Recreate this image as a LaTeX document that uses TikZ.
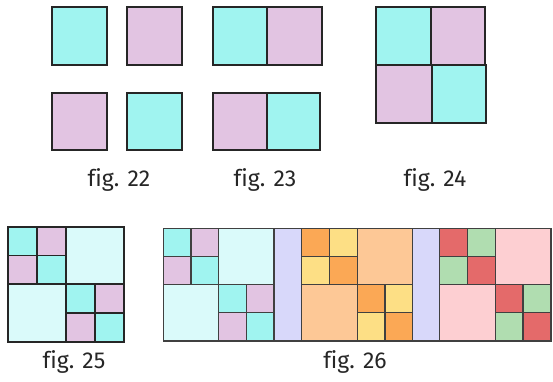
\documentclass[tikz,border=0pt]{standalone}
\usepackage{fontspec}
\setmainfont[Ligatures=NoCommon]{Fira Sans}
\usepackage{tikz}
\usetikzlibrary{positioning,calc}
\definecolor{tilecyan}{HTML}{A0F4F0}
\definecolor{tilepink}{HTML}{E2C4E2}
\definecolor{tilepale}{HTML}{DAFAFA}
\definecolor{bandblue}{HTML}{D8D8FA}
\definecolor{tileorange}{HTML}{FBA855}
\definecolor{tileyellow}{HTML}{FDDF85}
\definecolor{tilepeach}{HTML}{FDC896}
\definecolor{tilered}{HTML}{E46A6A}
\definecolor{tilegreen}{HTML}{B0DDB0}
\definecolor{tilerose}{HTML}{FDCFD2}

% block of fig. 25: #1,#2 top left corner, #3 width, #4 height, colours #5 #6 #7
\newcommand{\tileblock}[7]{%
  \pgfmathsetmacro{\hw}{#3/2}\pgfmathsetmacro{\hh}{#4/2}%
  \pgfmathsetmacro{\qw}{#3/4}\pgfmathsetmacro{\qh}{#4/4}%
  \draw[tile, fill=#7] (#1+\hw,#2) rectangle ++(\hw,\hh);
  \draw[tile, fill=#7] (#1,#2+\hh) rectangle ++(\hw,\hh);
  \foreach \ox/\oy in {0/0, \hw/\hh} {
    \draw[tile, fill=#5] (#1+\ox,#2+\oy) rectangle ++(\qw,\qh);
    \draw[tile, fill=#6] (#1+\ox+\qw,#2+\oy) rectangle ++(\qw,\qh);
    \draw[tile, fill=#6] (#1+\ox,#2+\oy+\qh) rectangle ++(\qw,\qh);
    \draw[tile, fill=#5] (#1+\ox+\qw,#2+\oy+\qh) rectangle ++(\qw,\qh);
  }
}

\begin{document}
\begin{tikzpicture}[x=1pt, y=-1pt,
  tile/.style={draw=black!85, line width=1.8pt},
  label/.style={font=\fontsize{23}{26}\selectfont, text=black!85}]
  \useasboundingbox (0,0) rectangle (553,381);

  % fig. 22
  \draw[tile, fill=tilecyan] (52.3,7.3) rectangle (107.3,64.7);
  \draw[tile, fill=tilepink] (126.7,7.3) rectangle (181.7,64.7);
  \draw[tile, fill=tilepink] (52.3,92.7) rectangle (107.3,150);
  \draw[tile, fill=tilecyan] (126.7,92.7) rectangle (181.7,150);
  \node[label] (fig22) at (119,180) {fig. 22};

  % fig. 23
  \draw[tile, fill=tilecyan] (212.7,7.3) rectangle (267,64.7);
  \draw[tile, fill=tilepink] (267,7.3) rectangle (321.7,64.7);
  \draw[tile, fill=tilepink] (212.7,92.7) rectangle (267.3,150);
  \draw[tile, fill=tilecyan] (267.3,92.7) rectangle (319.7,150);
  \node[label] (fig23) at (265,180) {fig. 23};

  % fig. 24
  \draw[tile, fill=tilecyan] (376.3,7.3) rectangle (431,64.7);
  \draw[tile, fill=tilepink] (431,7.3) rectangle (485,64.7);
  \draw[tile, fill=tilepink] (376.3,64.7) rectangle (432.3,123);
  \draw[tile, fill=tilecyan] (432.3,64.7) rectangle (485.7,123);
  \node[label] (fig24) at (435,180) {fig. 24};

  % fig. 25
  \tileblock{8}{226.7}{115.7}{115}{tilecyan}{tilepink}{tilepale}
  \node[label] (fig25) at (74,362) {fig. 25};

  % fig. 26
  \begin{scope}[tile/.style={draw=black!75, line width=1.3pt}]
    \draw[tile, fill=bandblue] (274,228.3) rectangle (301.7,341);
    \draw[tile, fill=bandblue] (412.7,228.3) rectangle (439.3,341);
    \tileblock{163.3}{228.3}{110.7}{112.7}{tilecyan}{tilepink}{tilepale}
    \tileblock{301.7}{228.3}{111}{112.7}{tileorange}{tileyellow}{tilepeach}
    \tileblock{439.3}{228.3}{111.7}{112.7}{tilered}{tilegreen}{tilerose}
    \draw[tile, line width=1.6pt] (163.3,228.3) rectangle (551,341);
  \end{scope}
  \node[label] (fig26) at (355,362) {fig. 26};
\end{tikzpicture}
\end{document}
